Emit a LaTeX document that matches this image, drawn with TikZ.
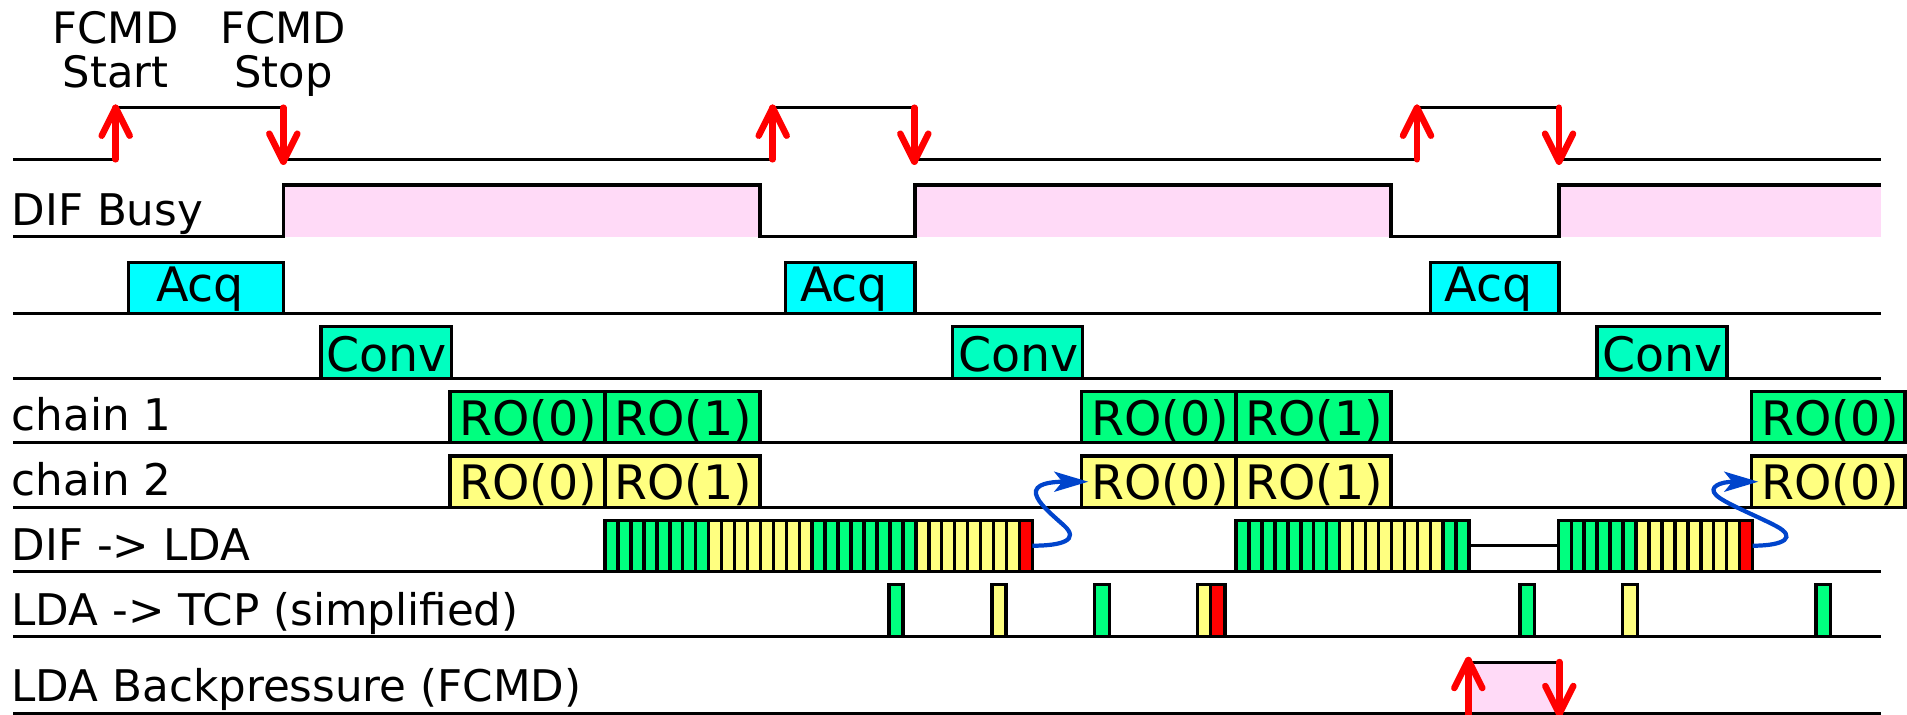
\documentclass[tikz,border=0pt]{standalone}
\usepackage{fontspec}
\setmainfont{DejaVu Sans}
\usetikzlibrary{arrows.meta}

\definecolor{busypink}{RGB}{255,218,247}
\definecolor{acqcyan}{RGB}{0,255,255}
\definecolor{convmint}{RGB}{0,255,192}
\definecolor{chgreen}{RGB}{0,255,127}
\definecolor{chyellow}{RGB}{255,255,128}
\definecolor{endred}{RGB}{255,0,0}
\definecolor{linkblue}{RGB}{0,68,204}

% red FCMD edge markers: #1 = x, #2 = foot, #3 = tip
\newcommand\fcmdrise[3]{%
  \draw[fcmd] (#1,#2) -- (#1,#3);
  \draw[fcmd] ({#1-14},{#3+28}) -- (#1,#3) -- ({#1+14},{#3+28});}
\newcommand\fcmdfall[3]{%
  \draw[fcmd] (#1,#2) -- (#1,#3);
  \draw[fcmd] ({#1-14},{#3-28}) -- (#1,#3) -- ({#1+14},{#3-28});}

\begin{document}
\begin{tikzpicture}[x=0.01cm,y=-0.01cm,
  sig/.style={line width=0.95pt},
  slot/.style={draw=black, line width=1pt},
  fcmd/.style={draw=red, line width=1.85pt, line cap=round, line join=round},
  link/.style={draw=linkblue, line width=1.2pt,
    -{Stealth[length=3.4mm,width=2mm,inset=0.8mm]}},
  rowlabel/.style={anchor=base west, inner sep=0pt,
    font=\fontsize{12.4}{14}\selectfont},
  boxlabel/.style={anchor=base, inner sep=0pt,
    font=\fontsize{13.5}{15}\selectfont},
  toplabel/.style={anchor=base, inner sep=0pt,
    font=\fontsize{12.3}{14}\selectfont},
]
\useasboundingbox (0,0) rectangle (1907,714);

% ---------- FCMD start/stop labels ----------
\node[toplabel] (startA) at (115.7,43.3) {FCMD};
\node[toplabel] (startB) at (115.7,87.3) {Start};
\node[toplabel] (stopA)  at (283.3,43.3) {FCMD};
\node[toplabel] (stopB)  at (283.3,87.3) {Stop};

% ---------- FCMD signal ----------
\draw[sig] (13,159.3) -- (115.7,159.3) -- (115.7,107.7) -- (283.3,107.7)
  -- (283.3,159.3) -- (772.7,159.3) -- (772.7,107.7) -- (914.3,107.7)
  -- (914.3,159.3) -- (1417,159.3) -- (1417,107.7) -- (1559,107.7)
  -- (1559,159.3) -- (1881,159.3);
\fcmdrise{115.7}{159.3}{107.7}
\fcmdfall{283.3}{107.7}{161.7}
\fcmdrise{772.7}{159.3}{107.7}
\fcmdfall{914.3}{107.7}{161.7}
\fcmdrise{1417}{159.3}{107.7}
\fcmdfall{1559}{107.7}{161.7}

% ---------- DIF Busy ----------
\node[rowlabel] (busy) at (11,225) {DIF Busy};
\fill[busypink] (283.3,185) rectangle (760,236.7);
\fill[busypink] (915,185) rectangle (1391,236.7);
\fill[busypink] (1559,185) rectangle (1881,236.7);
\draw[sig] (13,236.7) -- (283.3,236.7) -- (283.3,185) -- (760,185)
  -- (760,236.7) -- (915,236.7) -- (915,185) -- (1391,185)
  -- (1391,236.7) -- (1559,236.7) -- (1559,185) -- (1881,185);

% ---------- row base lines ----------
\foreach \y in {313.3,378.5,442.7,507.7,571.7,636.7,713.3}
  \draw[sig] (13,\y) -- (1881,\y);

% ---------- Acq ----------
\filldraw[slot, fill=acqcyan] (128.3,262.3) rectangle (283.3,313.3);
\filldraw[slot, fill=acqcyan] (785.7,262.3) rectangle (915,313.3);
\filldraw[slot, fill=acqcyan] (1430.5,262.3) rectangle (1559,313.3);
\node[boxlabel, anchor=base west] (acq1) at (155.5,301.7) {Acq};
\node[boxlabel, anchor=base west] (acq2) at (799.5,301.7) {Acq};
\node[boxlabel, anchor=base west] (acq3) at (1444,301.7) {Acq};

% ---------- Conv ----------
\filldraw[slot, fill=convmint] (321,326.7) rectangle (451.7,378.5);
\filldraw[slot, fill=convmint] (952.7,326.7) rectangle (1082.7,378.5);
\filldraw[slot, fill=convmint] (1597,326.7) rectangle (1727,378.5);
\node[boxlabel] (conv1) at (386.8,371.7) {Conv};
\node[boxlabel] (conv2) at (1018.2,371.7) {Conv};
\node[boxlabel] (conv3) at (1662.5,371.7) {Conv};

% ---------- chain 1 ----------
\node[rowlabel] (ch1) at (11,430.7) {chain 1};
\filldraw[slot, fill=chgreen] (450,391.7) rectangle (605,442.7);
\filldraw[slot, fill=chgreen] (605,391.7) rectangle (760,442.7);
\filldraw[slot, fill=chgreen] (1081.7,391.7) rectangle (1236,442.7);
\filldraw[slot, fill=chgreen] (1236,391.7) rectangle (1391,442.7);
\filldraw[slot, fill=chgreen] (1751.7,391.7) rectangle (1905,442.7);
\node[boxlabel] (c1r0a) at (528,435) {RO(0)};
\node[boxlabel] (c1r1a) at (683,435) {RO(1)};
\node[boxlabel] (c1r0b) at (1160,435) {RO(0)};
\node[boxlabel] (c1r1b) at (1314,435) {RO(1)};
\node[boxlabel] (c1r0c) at (1830,435) {RO(0)};

% ---------- chain 2 ----------
\node[rowlabel] (ch2) at (11,495.5) {chain 2};
\filldraw[slot, fill=chyellow] (450,456) rectangle (605,507.7);
\filldraw[slot, fill=chyellow] (605,456) rectangle (760,507.7);
\filldraw[slot, fill=chyellow] (1081.7,456) rectangle (1236,507.7);
\filldraw[slot, fill=chyellow] (1236,456) rectangle (1391,507.7);
\filldraw[slot, fill=chyellow] (1751.7,456) rectangle (1905,507.7);
\node[boxlabel] (c2r0a) at (528,499.3) {RO(0)};
\node[boxlabel] (c2r1a) at (683,499.3) {RO(1)};
\node[boxlabel] (c2r0b) at (1160,499.3) {RO(0)};
\node[boxlabel] (c2r1b) at (1314,499.3) {RO(1)};
\node[boxlabel] (c2r0c) at (1830,499.3) {RO(0)};

% ---------- DIF -> LDA ----------
\node[rowlabel] (dif) at (11,560) {DIF -> LDA};
\draw[sig] (1469,545.7) -- (1558.3,545.7);
\foreach \c [count=\i from 0] in
  {chgreen,chgreen,chgreen,chgreen,chgreen,chgreen,chgreen,chgreen,
   chyellow,chyellow,chyellow,chyellow,chyellow,chyellow,chyellow,chyellow,
   chgreen,chgreen,chgreen,chgreen,chgreen,chgreen,chgreen,chgreen,
   chyellow,chyellow,chyellow,chyellow,chyellow,chyellow,chyellow,chyellow,
   endred}
  \filldraw[slot, fill=\c] ({605+\i*12.95},520.7) rectangle ++(12.95,51);
\foreach \c [count=\i from 0] in
  {chgreen,chgreen,chgreen,chgreen,chgreen,chgreen,chgreen,chgreen,
   chyellow,chyellow,chyellow,chyellow,chyellow,chyellow,chyellow,chyellow,
   chgreen,chgreen}
  \filldraw[slot, fill=\c] ({1236+\i*12.95},520.7) rectangle ++(12.95,51);
\foreach \c [count=\i from 0] in
  {chgreen,chgreen,chgreen,chgreen,chgreen,chgreen,
   chyellow,chyellow,chyellow,chyellow,chyellow,chyellow,chyellow,chyellow,
   endred}
  \filldraw[slot, fill=\c] ({1558.3+\i*12.95},520.7) rectangle ++(12.95,51);

% hand-over from end marker to next chain readout
\coordinate (endA) at (1032.35,545.7);
\coordinate (roA)  at (1088.3,481.7);
\coordinate (endB) at (1752.55,545.7);
\coordinate (roB)  at (1758.3,481.7);
\draw[link] (endA) .. controls (1062,545.7) and (1080,540) .. (1064,525.5)
  .. controls (1050,513) and (1038,503) .. (1036,494)
  .. controls (1034,484) and (1050,481.7) .. (roA);
\draw[link] (endB) .. controls (1785,545.7) and (1797,537) .. (1776,526)
  .. controls (1755,515) and (1724,503) .. (1716,495)
  .. controls (1708,487) and (1720,481.7) .. (roB);

% ---------- LDA -> TCP ----------
\node[rowlabel] (tcp) at (11,625) {LDA -> TCP (simplified)};
\filldraw[slot, fill=chgreen]  (889,584.3) rectangle (903,636.7);
\filldraw[slot, fill=chyellow] (992,584.3) rectangle (1006,636.7);
\filldraw[slot, fill=chgreen]  (1094.3,584.3) rectangle (1109.3,636.7);
\filldraw[slot, fill=chyellow] (1197.7,584.3) rectangle (1210.7,636.7);
\filldraw[slot, fill=endred]   (1210.7,584.3) rectangle (1225,636.7);
\filldraw[slot, fill=chgreen]  (1520,584.3) rectangle (1534.3,636.7);
\filldraw[slot, fill=chyellow] (1622.7,584.3) rectangle (1637.3,636.7);
\filldraw[slot, fill=chgreen]  (1816,584.3) rectangle (1830.7,636.7);

% ---------- LDA backpressure ----------
\node[rowlabel] (bp) at (11,701.7) {LDA Backpressure (FCMD)};
\fill[busypink] (1468.3,662.7) rectangle (1559.3,714);
\draw[sig] (13,713.3) -- (1881,713.3);
\draw[sig] (1468.3,662.7) -- (1559.3,662.7);
\fcmdrise{1468.3}{716}{660}
\fcmdfall{1559.3}{662}{714}
\end{tikzpicture}
\end{document}
